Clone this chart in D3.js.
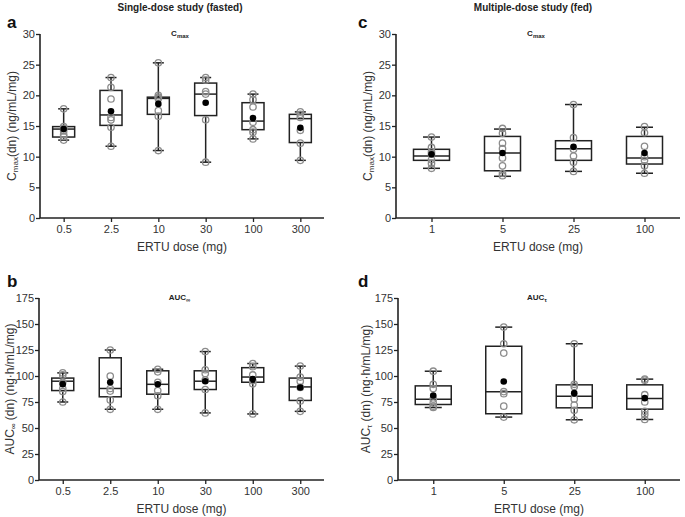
<!DOCTYPE html>
<html>
<head>
<meta charset="utf-8">
<script src="https://cdn.jsdelivr.net/npm/d3@7"></script>
<style>
  body { margin: 0; background: #fff; }
  svg text { font-family: "Liberation Sans", Arial, sans-serif; }
</style>
</head>
<body>
<script>
// dose categories
const sdDoses = ["0.5", "2.5", "10", "30", "100", "300"];
const mdDoses = ["1", "5", "25", "100"];

// box stats per dose: [min, q1, median, q3, max, mean]
const sdCmaxBox = [
  [12.7, 13.2, 14.5, 14.9, 17.8, 14.5],
  [11.7, 15.1, 16.8, 20.8, 22.9, 17.4],
  [11.0, 16.9, 19.5, 19.7, 25.3, 18.6],
  [9.1, 16.7, 20.2, 22.0, 22.9, 18.8],
  [12.9, 14.4, 15.8, 18.8, 20.2, 16.3],
  [9.4, 12.3, 16.2, 16.9, 17.3, 14.7]
];
const sdCmaxPts = [
  [17.8, 14.9, 14.6, 14.2, 13.6, 13.3, 12.7],
  [22.9, 21.3, 19.4, 16.4, 16.0, 14.8, 11.7],
  [25.3, 20.0, 19.7, 19.5, 17.5, 16.6, 11.0],
  [22.9, 22.5, 20.6, 20.2, 16.0, 9.1],
  [20.2, 19.3, 18.1, 15.6, 14.4, 14.0, 12.9],
  [17.3, 16.9, 16.4, 14.3, 12.2, 9.4]
];

const sdAucBox = [
  [75, 86, 95, 98, 103, 92],
  [68, 80, 88, 117.5, 125, 94],
  [68, 82.5, 92, 105, 106.5, 92],
  [64.5, 87, 95, 105, 123.5, 95],
  [63.5, 94, 99, 108, 112, 97],
  [66, 76.5, 89.5, 98, 109.5, 89]
];
const sdAucPts = [
  [103, 101, 94, 88, 85, 75],
  [125, 100, 88, 85.5, 77, 68],
  [106.5, 104, 94, 86, 81, 68],
  [123.5, 106, 102.5, 96, 87, 64.5],
  [112, 109, 101, 95.5, 92.5, 63.5],
  [109.5, 99, 95, 89, 76, 66]
];

const mdCmaxBox = [
  [8.1, 9.4, 10.1, 11.2, 13.2, 10.4],
  [6.8, 7.7, 10.6, 13.3, 14.5, 10.6],
  [7.6, 9.4, 11.3, 12.6, 18.5, 11.6],
  [7.3, 8.8, 9.8, 13.3, 14.8, 10.6]
];
const mdCmaxPts = [
  [13.2, 11.5, 10.8, 10.4, 9.5, 8.9, 8.1],
  [14.6, 13.8, 12.2, 11.3, 9.8, 8.5, 7.3, 6.9],
  [18.5, 13.1, 11.2, 10.1, 9.1, 7.6],
  [14.9, 13.9, 11.7, 10.0, 9.4, 8.5, 7.3]
];

const mdAucBox = [
  [69.7, 72.6, 77.7, 90.5, 104.6, 81.3],
  [60.5, 63.7, 84.8, 128.6, 147, 94.7],
  [57.9, 69.4, 80.6, 91.5, 131, 83.5],
  [58.2, 68.1, 78.4, 91.5, 97, 78.7]
];
const mdAucPts = [
  [104.6, 92, 88, 78, 74, 71, 69.7],
  [147, 131, 122, 85, 83, 71, 60.5],
  [131, 92, 90, 78, 72, 67, 57.9],
  [97, 96, 82, 75, 66, 63, 58.2]
];

const cmaxTicks = [0, 5, 10, 15, 20, 25, 30];
const aucTicks = [0, 25, 50, 75, 100, 125, 150, 175];

const W = 685, H = 517;
const ink = "#222";
const ptColor = "#8c8c8c";

const svg = d3.select("body").append("svg")
  .attr("width", W).attr("height", H);

// column titles
svg.append("text").attr("x", 180).attr("y", 11)
  .attr("text-anchor", "middle").attr("font-size", 10).attr("font-weight", "bold")
  .attr("fill", ink).text("Single-dose study (fasted)");
svg.append("text").attr("x", 533).attr("y", 11)
  .attr("text-anchor", "middle").attr("font-size", 10).attr("font-weight", "bold")
  .attr("fill", ink).text("Multiple-dose study (fed)");

const panels = [
  { letter: "a", lx: 7, ly: 28, x0: 40, x1: 324, yTop: 34, yBot: 218, doses: sdDoses,
    box: sdCmaxBox, pts: sdCmaxPts, ticks: cmaxTicks, labX: 12,
    main: "C", sub: "max", rest: "(dn) (ng/mL/mg)", showXLabel: true, bw: 22, cw: 11 },
  { letter: "b", lx: 7, ly: 287, x0: 39, x1: 324, yTop: 298, yBot: 480, doses: sdDoses,
    box: sdAucBox, pts: sdAucPts, ticks: aucTicks, labX: 10,
    main: "AUC", sub: "\u221e", rest: " (dn) (ng\u00b7h/mL/mg)", showXLabel: true, bw: 22, cw: 11 },
  { letter: "c", lx: 358, ly: 28, x0: 396, x1: 680, yTop: 34, yBot: 218, doses: mdDoses,
    box: mdCmaxBox, pts: mdCmaxPts, ticks: cmaxTicks, labX: 368,
    main: "C", sub: "max", rest: "(dn) (ng/mL/mg)", showXLabel: true, bw: 36, cw: 17 },
  { letter: "d", lx: 358, ly: 287, x0: 398, x1: 680, yTop: 298, yBot: 480, doses: mdDoses,
    box: mdAucBox, pts: mdAucPts, ticks: aucTicks, labX: 366,
    main: "AUC", sub: "\u03c4", rest: " (dn) (ng\u00b7h/mL/mg)", showXLabel: true, bw: 36, cw: 17 }
];

panels.forEach(p => drawPanel(p));

function drawPanel(p) {
  const g = svg.append("g");
  const x = d3.scalePoint().domain(p.doses).range([p.x0, p.x1]).padding(0.5);
  const y = d3.scaleLinear().domain([0, d3.max(p.ticks)]).range([p.yBot, p.yTop]);

  // panel letter
  g.append("text").attr("x", p.lx).attr("y", p.ly)
    .attr("font-size", 17).attr("font-weight", "bold").attr("fill", "#111").text(p.letter);

  // small title inside plot
  const t = g.append("text").attr("x", (p.x0 + p.x1) / 2 - 2).attr("y", p.yTop + 2)
    .attr("text-anchor", "middle").attr("font-size", 8).attr("font-weight", "bold").attr("fill", ink);
  t.append("tspan").text(p.main);
  t.append("tspan").attr("font-size", 6).attr("dy", 2).text(p.sub);

  // axes
  const yAxis = g.append("g").attr("transform", `translate(${p.x0},0)`)
    .call(d3.axisLeft(y).tickValues(p.ticks).tickSize(4).tickSizeOuter(0).tickPadding(1));
  const xAxis = g.append("g").attr("transform", `translate(0,${p.yBot})`)
    .call(d3.axisBottom(x).tickSize(4).tickSizeOuter(0).tickPadding(3));
  [yAxis, xAxis].forEach(a => {
    a.select(".domain").attr("stroke", ink).attr("stroke-width", 1.6);
    a.selectAll(".tick line").attr("stroke", ink).attr("stroke-width", 1.3);
    a.selectAll(".tick text").attr("font-size", 11).attr("fill", "#333")
      .attr("font-family", "Liberation Sans, Arial, sans-serif");
  });
  xAxis.select(".domain").attr("d", `M${p.x0},0H${p.x1}`);
  yAxis.select(".domain").attr("d", `M0,${p.yBot}V${p.yTop}`);

  // axis titles
  g.append("text").attr("x", (p.x0 + p.x1) / 2).attr("y", p.yBot + 33)
    .attr("text-anchor", "middle").attr("font-size", 12).attr("fill", "#333").text("ERTU dose (mg)");

  const yl = g.append("text")
    .attr("transform", `translate(${p.labX},${(p.yTop + p.yBot) / 2}) rotate(-90)`)
    .attr("text-anchor", "middle").attr("dominant-baseline", "central")
    .attr("font-size", 12).attr("fill", "#333");
  yl.append("tspan").text(p.main);
  yl.append("tspan").attr("font-size", 8).attr("dy", 3).text(p.sub);
  yl.append("tspan").attr("dy", -3).text(p.rest);

  // boxes
  const groups = g.selectAll(".bx").data(p.doses.map((d, i) => ({ dose: d, s: p.box[i], pts: p.pts[i] })))
    .join("g").attr("class", "bx")
    .attr("transform", d => `translate(${x(d.dose)},0)`);

  groups.append("line").attr("y1", d => y(d.s[3])).attr("y2", d => y(d.s[4]))
    .attr("stroke", ink).attr("stroke-width", 1.5);
  groups.append("line").attr("y1", d => y(d.s[1])).attr("y2", d => y(d.s[0]))
    .attr("stroke", ink).attr("stroke-width", 1.5);
  groups.each(function (d) {
    const gg = d3.select(this);
    [d.s[0], d.s[4]].forEach(v => {
      gg.append("line").attr("x1", -p.cw / 2).attr("x2", p.cw / 2)
        .attr("y1", y(v)).attr("y2", y(v)).attr("stroke", ink).attr("stroke-width", 1.5);
    });
  });
  groups.append("rect").attr("x", -p.bw / 2).attr("width", p.bw)
    .attr("y", d => y(d.s[3])).attr("height", d => y(d.s[1]) - y(d.s[3]))
    .attr("fill", "none").attr("stroke", ink).attr("stroke-width", 1.5);
  groups.append("line").attr("x1", -p.bw / 2).attr("x2", p.bw / 2)
    .attr("y1", d => y(d.s[2])).attr("y2", d => y(d.s[2]))
    .attr("stroke", ink).attr("stroke-width", 1.5);

  // individual points
  groups.selectAll("circle.pt").data(d => d.pts).join("circle").attr("class", "pt")
    .attr("cx", 0).attr("cy", v => y(v)).attr("r", 3.2)
    .attr("fill", "none").attr("stroke", ptColor).attr("stroke-width", 1.3);

  // mean
  groups.append("circle").attr("cx", 0).attr("cy", d => y(d.s[5])).attr("r", 3.3)
    .attr("fill", "#000");
}
</script>
</body>
</html>
